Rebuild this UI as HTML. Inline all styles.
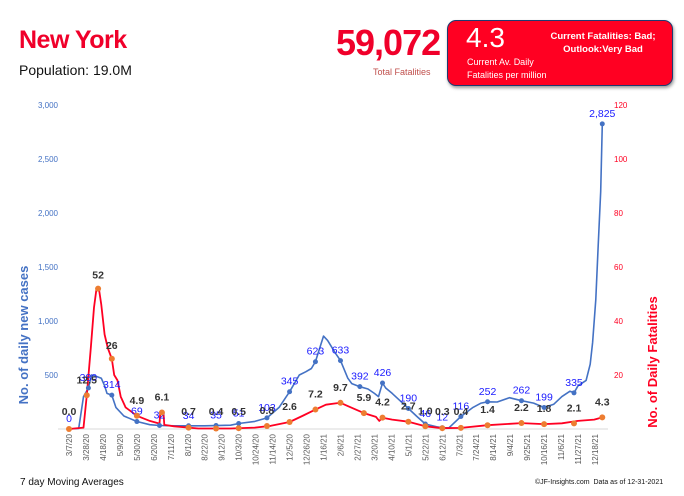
<!DOCTYPE html>
<html><head><meta charset="utf-8">
<style>
body{margin:0;width:684px;height:496px;background:#fff;overflow:hidden;font-family:"Liberation Sans",sans-serif;position:relative}
.a{position:absolute;white-space:nowrap}
</style></head><body>
<div class="a" style="left:19px;top:26px;font-size:25px;font-weight:bold;color:#f0002a;letter-spacing:-0.5px">New York</div>
<div class="a" style="left:19px;top:62px;font-size:14px;color:#111">Population: 19.0M</div>
<div class="a" style="left:336px;top:22px;font-size:36px;font-weight:bold;color:#f0002a;letter-spacing:-1px">59,072</div>
<div class="a" style="left:373px;top:67px;font-size:9px;color:#c0504d">Total Fatalities</div>
<div class="a" style="left:447px;top:20px;width:224px;height:64px;background:#ff0022;border:1px solid #1f3a70;border-radius:9px;box-shadow:1px 2px 3px #999"></div>
<div class="a" style="left:466px;top:22px;font-size:28px;color:#fff">4.3</div>
<div class="a" style="left:467px;top:56px;font-size:9px;color:#fff;line-height:13px">Current Av. Daily<br>Fatalities per million</div>
<div class="a" style="left:540px;top:30px;width:126px;text-align:center;font-size:9.5px;font-weight:bold;color:#fff;line-height:13px">Current Fatalities: Bad;<br>Outlook:Very Bad</div>
<div class="a" style="left:20px;top:477px;font-size:10px;color:#111">7 day Moving Averages</div>
<div class="a" style="left:535px;top:479px;font-size:7px;color:#111">©JF-Insights.com&nbsp; Data as of 12-31-2021</div>
<svg id="s" class="a" style="left:0;top:0" width="684" height="496" font-family="Liberation Sans, sans-serif"></svg>
<script>
var s=document.getElementById('s'),h='';
function X(d){return 69+d*0.808}
function YB(v){return 429-v*0.108}
function YR(v){return 429-v*2.7}
h+='<line x1="58" y1="429" x2="608" y2="429" stroke="#d9d9d9"/>';
[0,500,1000,1500,2000,2500,3000].forEach(function(v){if(v)h+='<text x="58" y="'+(YB(v)+3)+'" font-size="8" fill="#4472c4" text-anchor="end">'+v.toLocaleString('en-US')+'</text>';});
[20,40,60,80,100,120].forEach(function(v){h+='<text x="614" y="'+(YR(v)+3)+'" font-size="8" fill="#ff0022">'+v+'</text>';});
var m=['3/7/20','3/28/20','4/18/20','5/9/20','5/30/20','6/20/20','7/11/20','8/1/20','8/22/20','9/12/20','10/3/20','10/24/20','11/14/20','12/5/20','12/26/20','1/16/21','2/6/21','2/27/21','3/20/21','4/10/21','5/1/21','5/22/21','6/12/21','7/3/21','7/24/21','8/14/21','9/4/21','9/25/21','10/16/21','11/6/21','11/27/21','12/18/21'];
m.forEach(function(t,i){var x=X(i*21)+3;h+='<text transform="translate('+x+',434) rotate(-90)" font-size="8" fill="#595959" text-anchor="end">'+t+'</text>';});
var B=[[0,0],[12,5],[18,300],[24,380],[28,500],[33,490],[40,470],[44,400],[47,330],[53,314],[58,200],[68,120],[84,69],[100,40],[112,32],[130,30],[150,30],[168,30],[200,35],[210,51],[230,70],[245,103],[260,200],[273,345],[285,500],[293,530],[300,560],[305,623],[315,860],[320,820],[330,700],[336,633],[345,470],[350,420],[360,392],[370,370],[378,330],[383,300],[388,426],[392,380],[400,330],[410,260],[420,190],[430,120],[441,46],[455,20],[462,12],[470,10],[485,116],[500,200],[510,240],[518,252],[530,250],[545,290],[560,262],[575,240],[588,199],[600,230],[610,300],[620,350],[625,335],[630,400],[640,450],[645,600],[648,800],[652,1200],[655,1700],[658,2200],[660,2825]];
var R=[[0,0],[18,0.5],[22,12.5],[27,30],[31,45],[34,52],[37,52],[40,46],[44,35],[48,30],[53,26],[56,20],[60,18],[64,12],[70,8],[84,4.9],[100,3],[112,2],[113,6.1],[117,6],[118,1.5],[130,1],[148,0.5],[160,0.2],[200,0.2],[230,0.5],[250,1.2],[273,2.6],[290,5],[305,7.2],[318,9],[330,9.5],[336,9.7],[345,8.5],[365,5.9],[380,4.5],[384,3],[388,4.2],[400,3.5],[420,2.7],[441,1.0],[462,0.3],[485,0.4],[518,1.4],[560,2.2],[588,1.8],[610,2.1],[630,3],[650,3.5],[660,4.3]];
function pl(a,f,c,w){return '<polyline fill="none" stroke="'+c+'" stroke-width="'+w+'" stroke-linejoin="round" points="'+a.map(function(p){return X(p[0]).toFixed(1)+','+f(p[1]).toFixed(1)}).join(' ')+'"/>';}
h+=pl(B,YB,'#4472c4',1.6);
h+=pl(R,YR,'#ff0022',1.8);
var BL=[[0,0,'0'],[24,380,'380'],[53,314,'314'],[84,69,'69'],[112,32,'32'],[148,30,'34'],[182,32,'35'],[210,51,'51'],[245,103,'103'],[273,345,'345'],[305,623,'623'],[336,633,'633'],[360,392,'392'],[388,426,'426'],[420,190,'190'],[441,46,'46'],[462,12,'12'],[485,116,'116'],[518,252,'252'],[560,262,'262'],[588,199,'199'],[625,335,'335'],[660,2825,'2,825']];
BL.forEach(function(p){var x=X(p[0]),y=YB(p[1]);h+='<circle cx="'+x+'" cy="'+y+'" r="2.5" fill="#4472c4"/><text x="'+x+'" y="'+(y-7)+'" font-size="10.5" fill="#1a1aff" text-anchor="middle">'+p[2]+'</text>';});
var RL=[[0,0,'0.0'],[22,12.5,'12.5'],[36,52,'52'],[53,26,'26'],[84,4.9,'4.9'],[115,6.1,'6.1'],[148,0.5,'0.7'],[182,0.2,'0.4'],[210,0.3,'0.5'],[245,1.1,'0.8'],[273,2.6,'2.6'],[305,7.2,'7.2'],[336,9.7,'9.7'],[365,5.9,'5.9'],[388,4.2,'4.2'],[420,2.7,'2.7'],[441,1.0,'1.0'],[462,0.3,'0.3'],[485,0.4,'0.4'],[518,1.4,'1.4'],[560,2.2,'2.2'],[588,1.8,'1.8'],[625,2.1,'2.1'],[660,4.3,'4.3']];
RL.forEach(function(p){var x=X(p[0]),y=YR(p[1]);var ty=p[1]<3?Math.min(y-12,415):y-12;if(p[2]=='52'||p[2]=='26')ty=y-10;h+='<circle cx="'+x+'" cy="'+y+'" r="3" fill="#ed7d31"/><text x="'+x+'" y="'+ty+'" font-size="10.5" font-weight="bold" fill="#333" text-anchor="middle">'+p[2]+'</text>';});
h+='<text transform="translate(28,335) rotate(-90)" font-size="13" font-weight="bold" fill="#4472c4" text-anchor="middle">No. of daily new  cases</text>';
h+='<text transform="translate(657,362) rotate(-90)" font-size="13" font-weight="bold" fill="#ff0022" text-anchor="middle">No. of Daily Fatalities</text>';
s.innerHTML=h;
</script>
</body></html>
